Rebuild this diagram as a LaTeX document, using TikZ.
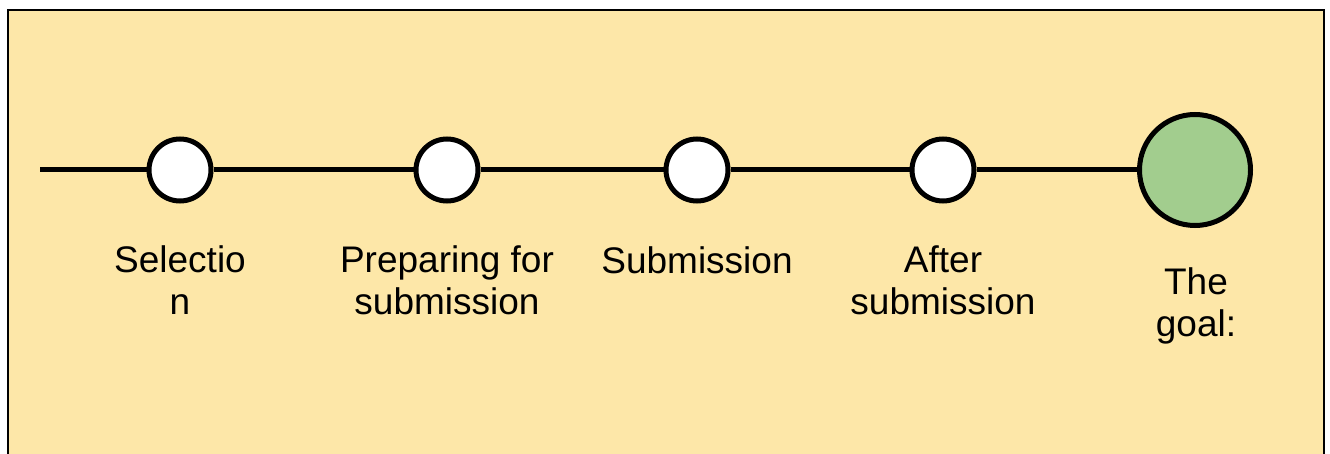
\documentclass[tikz,border=0pt]{standalone}
\usepackage{fontspec}
\setmainfont{Liberation Sans}
\definecolor{bgyellow}{HTML}{FDE7A8}
\definecolor{goalgreen}{HTML}{A2CD8E}
\begin{document}
\begin{tikzpicture}[x=1pt,y=1pt,
  stage/.style={circle,draw=black,line width=5pt,fill=white,minimum size=62pt,inner sep=0pt},
  goalnode/.style={circle,draw=black,line width=5pt,fill=goalgreen,minimum size=111pt,inner sep=0pt},
  lbl/.style={font=\fontsize{37}{42}\selectfont,align=center,anchor=base,inner sep=0pt},
  link/.style={line width=5pt,draw=black}]
\useasboundingbox (0,0) rectangle (1330,-454);
\clip (0,0) rectangle (1330,-454);
\node[draw=black,line width=2pt,fill=bgyellow,minimum width=1316pt,minimum height=520pt,inner sep=0pt,anchor=north west] (panel) at (7,-9) {};
\coordinate (start) at (40,-170);
\node[stage] (c1) at (180,-170) {};
\node[stage] (c2) at (447,-170) {};
\node[stage] (c3) at (697,-170) {};
\node[stage] (c4) at (943,-170) {};
\node[goalnode] (g) at (1195,-170) {};
\draw[link] (start) -- (c1) (c1) -- (c2) (c2) -- (c3) (c3) -- (c4) (c4) -- (g);
\node[lbl] (l1) at (180,-314) {Selectio\\n};
\node[lbl] (l2) at (447,-314) {Preparing for\\submission};
\node[lbl] (l3) at (697,-273) {Submission};
\node[lbl] (l4) at (943,-314) {After\\submission};
\begin{scope}
\clip (1100,-200) rectangle (1300,-344);
\node[lbl] (l5) at (1196,-336) {The\\goal:};
\end{scope}
\end{tikzpicture}
\end{document}
